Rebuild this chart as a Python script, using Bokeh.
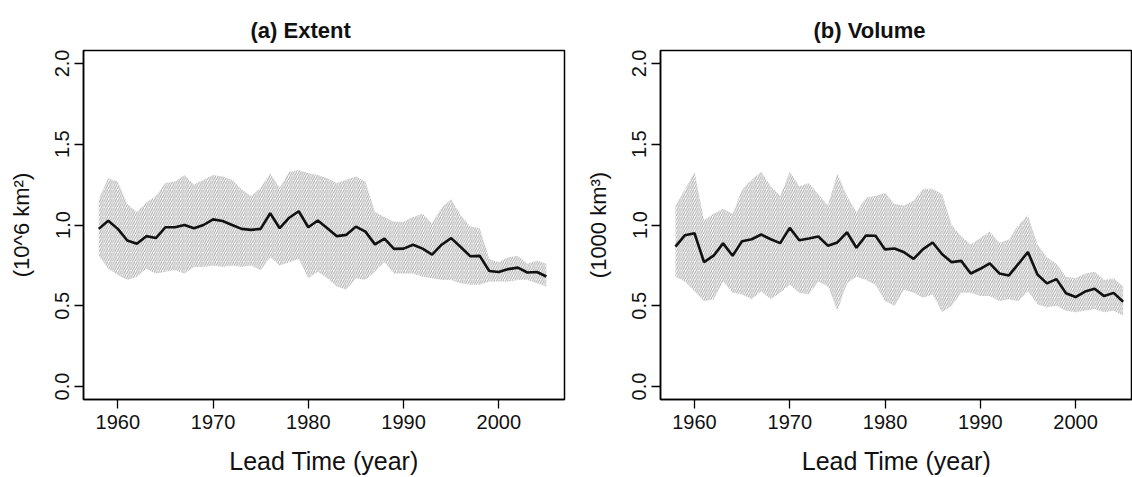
from bokeh.plotting import figure
from bokeh.layouts import row
from bokeh.models import FixedTicker, PrintfTickFormatter, Range1d
from bokeh.embed import file_html
from bokeh.resources import INLINE

years = list(range(1958, 2006))

extent_mean = [0.976, 1.026, 0.976, 0.904, 0.884, 0.931, 0.919, 0.986, 0.986, 1.000,
               0.980, 1.000, 1.035, 1.025, 1.000, 0.976, 0.970, 0.976, 1.073, 0.980,
               1.045, 1.085, 0.986, 1.028, 0.980, 0.931, 0.939, 0.990, 0.959, 0.880,
               0.915, 0.852, 0.854, 0.878, 0.854, 0.817, 0.878, 0.919, 0.864, 0.807,
               0.809, 0.715, 0.709, 0.727, 0.736, 0.706, 0.709, 0.681]
extent_upper = [1.16, 1.29, 1.27, 1.13, 1.08, 1.14, 1.18, 1.26, 1.27, 1.31,
                1.25, 1.28, 1.31, 1.30, 1.28, 1.22, 1.18, 1.23, 1.32, 1.23,
                1.33, 1.34, 1.32, 1.31, 1.29, 1.26, 1.28, 1.30, 1.27, 1.08,
                1.05, 1.02, 1.02, 1.05, 1.07, 1.01, 1.11, 1.16, 1.06, 0.99,
                0.98, 0.79, 0.77, 0.80, 0.81, 0.76, 0.78, 0.76]
extent_lower = [0.81, 0.73, 0.69, 0.66, 0.68, 0.73, 0.70, 0.71, 0.72, 0.70,
                0.74, 0.74, 0.75, 0.74, 0.75, 0.74, 0.75, 0.72, 0.80, 0.75,
                0.77, 0.79, 0.67, 0.71, 0.67, 0.62, 0.60, 0.67, 0.66, 0.71,
                0.77, 0.70, 0.70, 0.70, 0.68, 0.67, 0.66, 0.66, 0.64, 0.63,
                0.63, 0.65, 0.65, 0.65, 0.66, 0.66, 0.64, 0.62]

volume_mean = [0.866, 0.937, 0.949, 0.770, 0.810, 0.886, 0.810, 0.900, 0.912, 0.941,
               0.912, 0.888, 0.982, 0.906, 0.916, 0.929, 0.872, 0.892, 0.955, 0.859,
               0.935, 0.933, 0.849, 0.855, 0.831, 0.790, 0.851, 0.892, 0.819, 0.770,
               0.778, 0.700, 0.729, 0.762, 0.700, 0.688, 0.759, 0.833, 0.694, 0.639,
               0.665, 0.578, 0.554, 0.588, 0.605, 0.560, 0.580, 0.525]
volume_upper = [1.12, 1.22, 1.33, 1.03, 1.07, 1.10, 1.07, 1.22, 1.28, 1.33,
                1.24, 1.18, 1.33, 1.24, 1.26, 1.19, 1.12, 1.32, 1.18, 1.08,
                1.17, 1.18, 1.20, 1.13, 1.12, 1.15, 1.225, 1.225, 1.19, 1.00,
                0.93, 0.88, 0.92, 0.96, 0.89, 0.91, 1.00, 1.06, 0.88, 0.80,
                0.76, 0.68, 0.67, 0.70, 0.71, 0.66, 0.67, 0.62]
volume_lower = [0.68, 0.65, 0.59, 0.53, 0.54, 0.65, 0.58, 0.57, 0.54, 0.59,
                0.54, 0.58, 0.63, 0.58, 0.57, 0.65, 0.62, 0.47, 0.64, 0.68,
                0.66, 0.63, 0.53, 0.50, 0.60, 0.58, 0.55, 0.57, 0.46, 0.50,
                0.58, 0.58, 0.56, 0.56, 0.53, 0.54, 0.53, 0.59, 0.51, 0.49,
                0.50, 0.47, 0.46, 0.47, 0.48, 0.46, 0.47, 0.44]

x_ticks = [1960, 1970, 1980, 1990, 2000]
y_ticks = [0.0, 0.5, 1.0, 1.5, 2.0]

FONT = "Liberation Sans"


def make_panel(title, ylabel, mean, lower, upper, width, b_left, b_right, x_start, x_end, t_offset):
    p = figure(width=width, height=477, output_backend="svg", toolbar_location=None,
               x_range=Range1d(x_start, x_end), y_range=Range1d(-0.08, 2.08),
               min_border_left=b_left, min_border_right=b_right,
               min_border_top=50, min_border_bottom=74)
    p.grid.visible = False
    p.outline_line_color = "black"
    p.outline_line_width = 1.5
    p.background_fill_color = "white"
    p.border_fill_color = "white"

    p.varea(x=years, y1=lower, y2=upper, fill_alpha=0,
            hatch_pattern="/", hatch_color="#a9a9a9", hatch_scale=4.5, hatch_weight=1)
    p.line(years, mean, line_color="#111111", line_width=2.6)

    p.title.text = title
    p.title.text_font = FONT
    p.title.text_font_size = "22px"
    p.title.text_font_style = "bold"
    p.title.align = "left"
    p.title.offset = t_offset
    p.title.standoff = 16
    p.title.text_color = "#111111"

    p.xaxis.ticker = FixedTicker(ticks=x_ticks)
    p.yaxis.ticker = FixedTicker(ticks=y_ticks)
    p.yaxis.formatter = PrintfTickFormatter(format="%.1f")
    p.yaxis.major_label_orientation = "parallel"
    for ax in (p.xaxis, p.yaxis):
        ax.minor_tick_line_color = None
        ax.major_tick_in = 0
        ax.major_tick_out = 9
        ax.major_tick_line_color = "black"
        ax.major_tick_line_width = 1.3
        ax.axis_line_color = "black"
        ax.axis_line_width = 1.5
        ax.major_label_text_font = FONT
        ax.major_label_text_font_size = "20px"
        ax.major_label_text_color = "#111111"
        ax.axis_label_text_font = FONT
        ax.axis_label_text_font_style = "normal"
        ax.axis_label_text_color = "#111111"
    p.xaxis.major_label_standoff = 6
    p.yaxis.major_label_standoff = 5
    p.xaxis.axis_label = "Lead Time (year)"
    p.xaxis.axis_label_text_font_size = "25px"
    p.xaxis.axis_label_standoff = 15
    p.yaxis.axis_label = ylabel
    p.yaxis.axis_label_text_font_size = "22px"
    p.yaxis.axis_label_standoff = 19
    return p


p1 = make_panel("(a) Extent", "(10^6 km\u00b2)", extent_mean, extent_lower, extent_upper,
                577, 83, 13, 1956.40, 2006.90, 167)
p2 = make_panel("(b) Volume", "(1000 km\u00b3)", volume_mean, volume_lower, volume_upper,
                555, 83, 0, 1956.43, 2005.98, 153)

layout = row(p1, p2)
open("out.html", "w").write(file_html(layout, INLINE))
